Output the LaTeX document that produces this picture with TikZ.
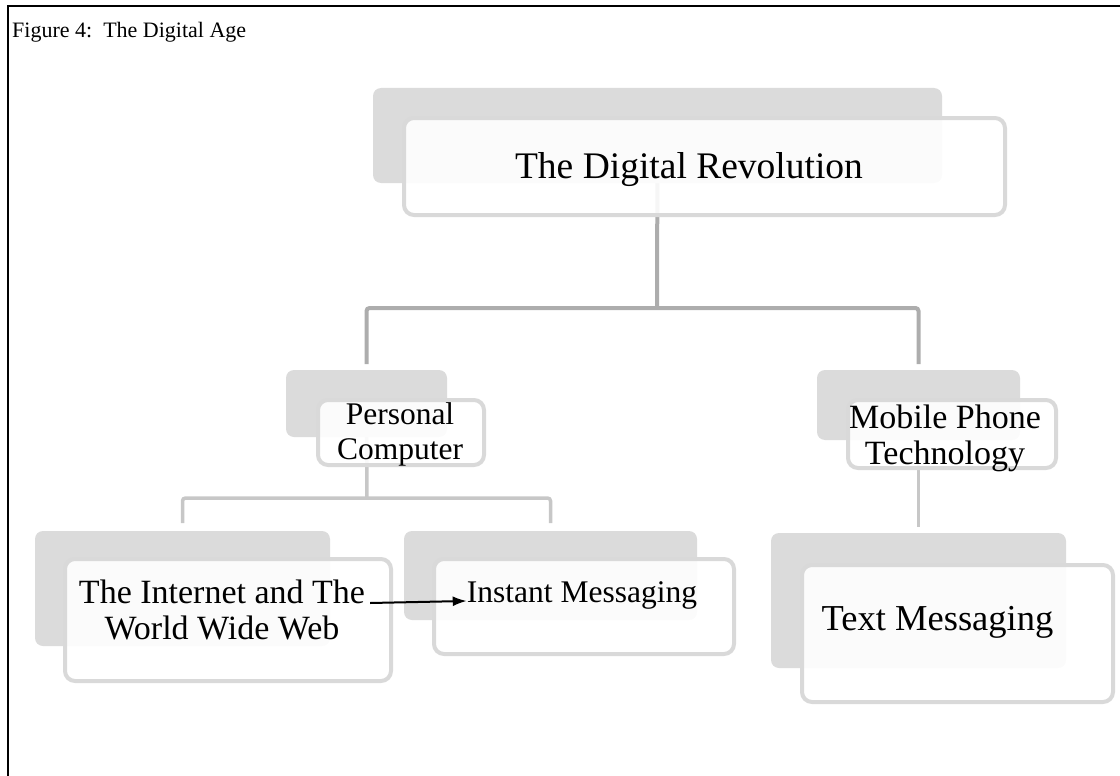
\documentclass[tikz,border=0pt]{standalone}
\usepackage{fontspec}
\setmainfont{Liberation Serif}
\usetikzlibrary{arrows.meta,backgrounds}
\begin{document}
\begin{tikzpicture}[x=1pt,y=-1pt,
  back/.style={fill=black!14,rounded corners=8pt,inner sep=0pt,outer sep=0pt},
  front/.style={fill=white,fill opacity=0.9,draw=black!15,line width=4pt,rounded corners=10pt,inner sep=0pt,outer sep=0pt},
  label/.style={align=center,inner sep=0pt},
  link1/.style={draw=black!32,line width=4pt,rounded corners=3pt},
  link2/.style={draw=black!22,line width=3.5pt,rounded corners=3pt}]
\useasboundingbox (0,0) rectangle (1120,776);
% frame and caption
\draw[line width=2pt] (8,776) -- (8,6) -- (1120,6);
\node[name=cap,anchor=base west,inner sep=0pt,font=\fontsize{22}{26}\selectfont] at (12,38){Figure 4:\ \ The Digital Age};
% forks of the connectors
\coordinate (fork1) at (657,308);
\coordinate (fork2) at (367,498);
% back boxes
\node[back,name=revback,minimum width=569,minimum height=95] at (657.5,135.5){};
\node[back,name=pcback,minimum width=161,minimum height=67] at (366.5,403.5){};
\node[back,name=mpback,minimum width=203,minimum height=70] at (918.5,405){};
\node[back,name=netback,minimum width=295,minimum height=115] at (182.5,588.5){};
\node[back,name=imback,minimum width=293,minimum height=89] at (550.5,575.5){};
\node[back,name=tmback,minimum width=295,minimum height=135] at (918.5,600.5){};
% front boxes
\node[front,name=revfront,minimum width=601,minimum height=97] at (704.5,166.5){};
\node[front,name=pcfront,minimum width=166,minimum height=65] at (401,432.5){};
\node[front,name=mpfront,minimum width=208,minimum height=68] at (952,434){};
\node[front,name=netfront,minimum width=326,minimum height=122] at (228,620){};
\node[front,name=imfront,minimum width=300,minimum height=95] at (584,606.5){};
\node[front,name=tmfront,minimum width=311,minimum height=137] at (957.5,633.5){};
% connectors
\begin{scope}[on background layer]
\draw[link1] (revback.center) -- (fork1);
\draw[link1,shorten <=6pt,shorten >=6pt] (pcback.north) |- (fork1) -| (mpback.north);
\draw[link2] (pcback.center) -- (fork2);
\draw[link2,shorten <=8pt,shorten >=8pt] (netback.north) |- (fork2) -| (imback.north);
\draw[link2,shorten >=6pt] (mpback.center) -- (tmback.north);
\end{scope}
% texts
\node[label,name=revtext,font=\fontsize{37.5}{40}\selectfont] at (689,169.5){The Digital Revolution};
\node[label,name=pctext,font=\fontsize{31.5}{35}\selectfont] at (400,434){Personal\\Computer};
\node[label,name=mptext,font=\fontsize{34}{36}\selectfont] at (945,438){Mobile Phone\\Technology};
\node[label,name=nettext,font=\fontsize{34}{36}\selectfont] at (222,610){The Internet and The\\World Wide Web};
\node[label,name=imtext,anchor=base,font=\fontsize{31.5}{36}\selectfont] at (582,602){Instant Messaging};
\node[label,name=tmtext,font=\fontsize{36.5}{40}\selectfont] at (937.5,622){Text Messaging};
% arrow
\draw[-{Latex[length=14pt,width=10pt]},line width=2pt] ([xshift=5pt,yshift=7pt]nettext.east) -- ([yshift=-6pt]imtext.west);
\end{tikzpicture}
\end{document}
